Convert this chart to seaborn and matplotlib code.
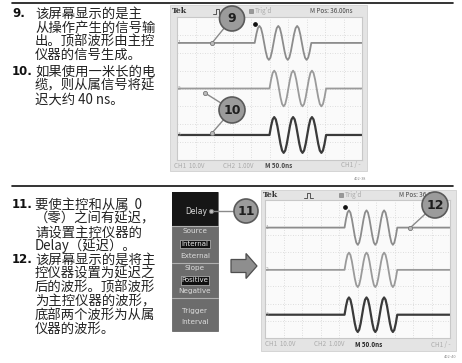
import matplotlib
matplotlib.use("Agg")
import matplotlib.pyplot as plt
from matplotlib.patches import Rectangle, Circle, Polygon
import numpy as np
import pandas as pd
import seaborn as sns

sns.set_style("white")
plt.rcParams['font.family'] = ['Noto Sans CJK SC', 'DejaVu Sans']

# ---------------- data ----------------
top_items = ["9.", "10."]
top_lines = [["该屏幕显示的是主", "从操作产生的信号输", "出。顶部波形由主控", "仪器的信号生成。"],
             ["如果使用一米长的电", "缆，则从属信号将延", "迟大约 40 ns。"]]
bottom_items = ["11.", "12."]
bottom_lines = [["要使主控和从属  0", "（零）之间有延迟，", "请设置主控仪器的", "Delay（延迟）。"],
                ["该屏幕显示的是将主", "控仪器设置为延迟之", "后的波形。顶部波形",
                 "为主控仪器的波形，", "底部两个波形为从属", "仪器的波形。"]]

menu_sections = [["Delay"], ["Source", "Internal", "External"],
                 ["Slope", "Positive", "Negative"], ["Trigger", "Interval"]]
menu_selected = ["Internal", "Positive"]

status_texts = ["Tek", "Trig'd", "M Pos: 36.00ns"]
readout_texts = ["CH1  10.0V", "CH2  1.00V", "M 50.0ns", "CH1 / -"]
figure_codes = ["402-38", "402-40"]

channels = ["CH1", "CH2", "CH3"]
channel_colors = ["#8c8c8c", "#9a9a9a", "#3a3a3a"]

# one sine burst (3 cycles), normalised amplitude, sampled at 1/12 period
burst_shape = [0.0, 0.5, 0.87, 1.0, 0.87, 0.5, 0.0, -0.5, -0.87, -1.0, -0.87, -0.5,
               0.0, 0.5, 0.87, 1.0, 0.87, 0.5, 0.0, -0.5, -0.87, -1.0, -0.87, -0.5,
               0.0, 0.5, 0.87, 1.0, 0.87, 0.5, 0.0, -0.5, -0.87, -1.0, -0.87, -0.5, 0.0]

top_levels = [2.55, 0.0, -2.6]
top_amps = [0.95, 1.0, 1.0]
top_starts = [4.2, 5.0, 5.0]
top_period = 1.02

bot_levels = [2.4, -0.05, -2.65]
bot_amps = [1.0, 1.0, 1.0]
bot_starts = [4.3, 4.3, 4.3]
bot_period = 0.95

W, H = 462, 363
fig = plt.figure(figsize=(W / 100, H / 100), dpi=100)
fig.patch.set_facecolor("white")


def pax(x0, y0, x1, y1, z):
    a = fig.add_axes([x0 / W, 1 - y1 / H, (x1 - x0) / W, (y1 - y0) / H])
    a.set_zorder(z)
    return a


ax = pax(0, 0, W, H, 0)
ax.set_xlim(0, W)
ax.set_ylim(H, 0)
ax.axis("off")

ov = pax(0, 0, W, H, 5)
ov.set_xlim(0, W)
ov.set_ylim(H, 0)
ov.axis("off")
ov.patch.set_alpha(0)

TXT = "#222222"

# separator rules
ax.plot([12, 453], [2.5, 2.5], color="#111111", lw=1.2)
ax.plot([12, 453], [185.5, 185.5], color="#111111", lw=1.2)


def text_block(items, paragraphs, y0, step, gap):
    y = y0
    for num, lines in zip(items, paragraphs):
        ax.text(12, y, num, fontsize=8.5, fontweight="bold", color="#111111",
                va="center", ha="left", family=["DejaVu Sans"])
        for ln in lines:
            ax.text(35, y, ln, fontsize=9.6, color=TXT, va="center", ha="left")
            y += step
        y += gap


text_block(top_items, top_lines, 13.5, 13.9, 2.5)
text_block(bottom_items, bottom_lines, 204.5, 13.8, 0)


def scope(frame, grat, levels, amps, starts, period, bold_m, code, codepos):
    fx0, fy0, fx1, fy1 = frame
    ax.add_patch(Rectangle((fx0, fy0), fx1 - fx0, fy1 - fy0, facecolor="#e4e4e4",
                           edgecolor="#d0d0d0", lw=0.6, zorder=1))
    gx0, gy0, gx1, gy1 = grat
    # status bar
    sy = (fy0 + gy0) / 2
    ax.text(fx0 + 2, sy, status_texts[0], fontsize=5.5, fontweight="bold", color="#333333",
            va="center", ha="left", family=["DejaVu Serif"], zorder=3)
    px = fx0 + 0.22 * (fx1 - fx0)
    ax.plot([px, px + 3, px + 3, px + 6, px + 6, px + 9],
            [sy + 2.5, sy + 2.5, sy - 2.5, sy - 2.5, sy + 2.5, sy + 2.5],
            color="#555555", lw=0.7, zorder=3)
    tx = fx0 + 0.40 * (fx1 - fx0)
    ax.add_patch(Rectangle((tx, sy - 2), 4, 4, facecolor="#999999", edgecolor="#777777", lw=0.4, zorder=3))
    ax.text(tx + 6, sy, status_texts[1], fontsize=4.5, color="#aaaaaa", va="center", ha="left", zorder=3)
    ax.text(fx0 + 0.71 * (fx1 - fx0), sy, status_texts[2], fontsize=4.5, color="#444444",
            va="center", ha="left", zorder=3)
    # readout
    ry = (gy1 + fy1) / 2
    xs = [0.02, 0.27, 0.48, 0.87]
    for i, t in enumerate(readout_texts):
        col = "#222222" if (i == 2 and bold_m) else ("#444444" if i == 2 else "#aaaaaa")
        ax.text(fx0 + xs[i] * (fx1 - fx0), ry, t, fontsize=4.5, color=col, va="center", ha="left",
                fontweight="bold" if i == 2 else "normal", zorder=3)
    ax.text(codepos[0], codepos[1], code, fontsize=2.8, color="#888888", ha="right", va="center")

    g = pax(gx0, gy0, gx1, gy1, 2)
    g.set_facecolor("#fafafa")
    rows = []
    for ch, lev, amp, st in zip(channels, levels, amps, starts):
        ts = [0.0] + [st + i * period / 12 for i in range(len(burst_shape))] + [10.0]
        vs = [lev] + [lev + amp * b for b in burst_shape] + [lev]
        for t, v in zip(ts, vs):
            rows.append({"t": t, "v": v, "ch": ch})
    df = pd.DataFrame(rows)
    for ch, col in zip(channels, channel_colors):
        sns.lineplot(data=df[df.ch == ch], x="t", y="v", color=col, estimator=None, sort=False,
                     lw=1.6 if ch == "CH3" else 1.3, ax=g, legend=False)
    g.set_xlim(0, 10)
    g.set_ylim(-4, 4)
    g.set_xticks(np.arange(0, 11))
    g.set_yticks(np.arange(-4, 5))
    g.grid(True, color="#d4d4d4", ls=(0, (1, 2)), lw=0.6)
    g.tick_params(length=0, labelbottom=False, labelleft=False)
    g.set_xlabel("")
    g.set_ylabel("")
    for s in g.spines.values():
        s.set_color("#c8c8c8")
        s.set_linewidth(0.8)
    for i, lev in enumerate(levels):
        g.text(0.04, lev, str(i + 1), fontsize=3.5, color="#999999", va="center", ha="left")
    trig = min(starts)
    g.plot([trig], [3.6], marker="o", ms=2.4, color="#111111", clip_on=False)
    return g


def callout(cx, cy, r, label, targets):
    for (tx, ty) in targets:
        ov.plot([cx, tx], [cy, ty], color="#8a8a8a", lw=1.0, zorder=4)
        ov.plot([tx], [ty], marker="o", ms=3, mfc="#bbbbbb", mec="#777777", mew=0.6, zorder=5)
    ov.add_patch(Circle((cx, cy), r, facecolor="#9b9b9b", edgecolor="#5a5a5a", lw=1.2, zorder=6))
    ov.text(cx, cy + 0.5, label, fontsize=9, fontweight="bold", color="#1e1e1e",
            ha="center", va="center", family=["DejaVu Sans"], zorder=7)


scope((170, 5, 367, 171), (177, 17, 362, 160), top_levels, top_amps, top_starts, top_period,
      False, figure_codes[0], (366, 179))
scope((261, 190, 456, 351), (265, 200, 450, 338), bot_levels, bot_amps, bot_starts, bot_period,
      True, figure_codes[1], (456, 357))

callout(232, 18.5, 12.5, "9", [(212, 43)])
callout(232, 110, 13, "10", [(205, 93), (212, 133)])
callout(435, 205, 13, "12", [(410, 228)])

# menu
ax.add_patch(Rectangle((172, 192), 46, 139, facecolor="#6c6c6c", edgecolor="#5a5a5a", lw=0.5, zorder=2))
ax.add_patch(Rectangle((172, 192), 46, 34, facecolor="#161616", edgecolor="none", zorder=2))
for yy in [226, 263, 298]:
    ax.plot([172, 218], [yy, yy], color="#b0b0b0", lw=0.8, zorder=3)
menu_y = [[211], [231, 244, 256], [268, 280.5, 291], [311, 321.5]]
for sec, ys in zip(menu_sections, menu_y):
    for label, yy in zip(sec, ys):
        if label == "Delay":
            ax.text(207, yy, label, fontsize=5.5, color="#d8d8d8", ha="right", va="center",
                    family=["DejaVu Sans"], zorder=4)
        elif label in menu_selected:
            ax.text(195, yy, label, fontsize=5, color="#e8e8e8", ha="center", va="center",
                    family=["DejaVu Sans"], zorder=4,
                    bbox=dict(boxstyle="square,pad=0.15", facecolor="#111111", edgecolor="#dddddd", lw=0.4))
        else:
            ax.text(195, yy, label, fontsize=5.2, color="#dcdcdc", ha="center", va="center",
                    family=["DejaVu Sans"], zorder=4)
callout(246, 211, 12, "11", [(211, 211)])

# block arrow
ax.add_patch(Polygon([(231, 259.5), (246, 259.5), (246, 253.5), (257, 266), (246, 278.5),
                      (246, 272.5), (231, 272.5)], closed=True, facecolor="#8e8e8e",
                     edgecolor="#4e4e4e", lw=0.9, zorder=3))

fig.savefig("out.png", dpi=100)
